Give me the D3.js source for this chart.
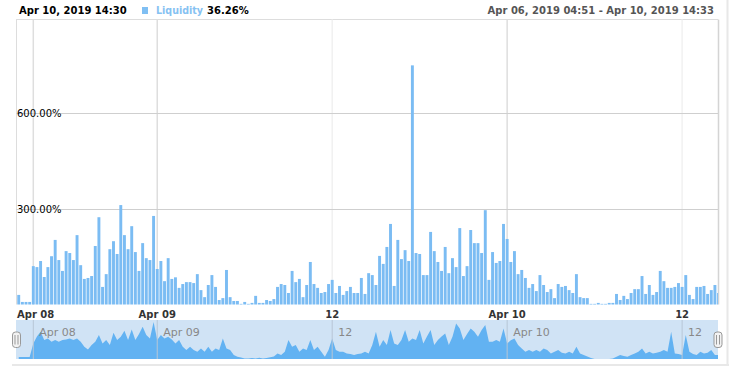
<!DOCTYPE html>
<html><head><meta charset="utf-8">
<script src="https://cdn.jsdelivr.net/npm/d3@7"></script>
<style>body{margin:0;background:#fff}svg{display:block;font-family:"DejaVu Sans",Verdana,sans-serif}</style>
</head><body><svg id="c" width="729" height="367"></svg>
<script>
const liquidity = [30,8,8,8,120,117,136,86,117,151,202,139,105,167,161,139,217,123,80,83,89,183,273,55,95,173,198,158,311,217,173,245,164,105,192,145,139,277,111,136,73,145,80,85,52,64,70,70,67,95,45,23,61,92,55,14,20,108,23,11,11,2,8,2,5,27,5,5,14,11,17,55,64,61,36,105,70,80,23,61,133,64,52,36,39,64,77,36,58,30,42,55,36,36,83,33,98,92,61,152,127,180,252,58,202,142,170,136,748,161,158,92,92,227,167,133,105,180,98,145,117,239,89,120,233,192,192,161,295,77,164,130,136,252,205,133,167,95,108,83,52,64,42,92,61,39,48,20,64,55,58,45,36,95,23,20,20,2,2,5,2,2,5,5,33,14,27,17,36,48,48,89,33,61,30,39,105,73,52,52,55,67,55,92,30,17,55,55,58,33,45,61,36];
const scrollValues = [16,16,16,16,125,180,218,152,165,139,152,139,152,157,165,152,165,139,99,77,112,139,192,125,152,112,211,152,179,227,152,237,152,200,259,192,165,296,152,192,165,179,157,125,152,99,72,99,72,59,85,59,99,59,85,72,165,85,72,32,19,13,5,5,8,5,10,5,8,15,20,45,32,59,152,99,112,59,85,72,152,72,99,59,19,72,165,72,59,59,45,40,32,40,45,59,45,112,219,99,152,112,232,125,112,152,232,139,165,152,232,125,180,232,112,152,180,205,112,179,285,245,152,200,245,219,179,232,272,139,139,152,139,245,125,150,165,112,85,59,72,59,72,59,85,72,45,59,72,50,45,59,45,99,45,32,20,8,0,0,0,0,0,5,19,32,25,19,32,45,59,85,45,59,45,50,59,72,59,219,45,40,32,192,59,40,32,59,45,50,72,32,32];
const tickIndex = [4, 38, 86, 134, 182];
const tickLabels = ["Apr 08", "Apr 09", "12", "Apr 10", "12"];
const tickMajor = [true, true, false, true, false];
const yTicks = [300, 600];
const headerDate = "Apr 10, 2019 14:30";
const seriesName = "Liquidity";
const seriesValue = "36.26%";
const rangeText = "Apr 06, 2019 04:51 - Apr 10, 2019 14:33";

const svg = d3.select("#c");
const L = 16, R = 718, T = 19.5, B = 304.5;
const x = d3.scaleBand().domain(d3.range(liquidity.length)).range([16.9, 16.9 + 3.645 * liquidity.length]).padding(0);
const y = d3.scaleLinear().domain([0, 893]).range([B, 19]);
const fmt = d3.format(".2f");

svg.append("defs").append("clipPath").attr("id", "pc").append("rect")
  .attr("x", L).attr("y", 0).attr("width", R - L).attr("height", 367);

// outer light border
svg.append("line").attr("x1", 727.5).attr("x2", 727.5).attr("y1", 0).attr("y2", 366).attr("stroke", "#e8e8e8").attr("stroke-width", 2);
svg.append("line").attr("x1", 12).attr("x2", 729).attr("y1", 365).attr("y2", 365).attr("stroke", "#e8e8e8").attr("stroke-width", 2);

// header
svg.append("text").attr("x", 19).attr("y", 14).attr("font-size", 10).attr("font-weight", "bold").attr("fill", "#000").text(headerDate);
svg.append("rect").attr("x", 142).attr("y", 7).attr("width", 6).attr("height", 7).attr("fill", "#80bff3");
const nameT = svg.append("text").attr("x", 156).attr("y", 14).attr("font-size", 10).attr("font-weight", "bold").attr("fill", "#86c2f2")
  .attr("textLength", 47).attr("lengthAdjust", "spacingAndGlyphs").text(seriesName);
svg.append("text").attr("x", 207).attr("y", 14).attr("font-size", 10).attr("font-weight", "bold").attr("fill", "#000").text(seriesValue);
svg.append("text").attr("x", 714).attr("y", 14).attr("text-anchor", "end").attr("font-size", 10).attr("font-weight", "bold").attr("fill", "#555").text(rangeText);

// plot frame
const g = svg.append("g");
g.append("line").attr("x1", L).attr("x2", R).attr("y1", T).attr("y2", T).attr("stroke", "#ddd");
g.append("line").attr("x1", L + 0.5).attr("x2", L + 0.5).attr("y1", T).attr("y2", B).attr("stroke", "#ddd");
g.append("line").attr("x1", R + 0.5).attr("x2", R + 0.5).attr("y1", T).attr("y2", B).attr("stroke", "#d4d4d4").attr("stroke-width", 1.5);

// vertical grid
const cx = i => x(i) + x.bandwidth() / 2;
tickIndex.forEach((ti, k) => {
  g.append("line").attr("x1", cx(ti)).attr("x2", cx(ti)).attr("y1", T).attr("y2", B)
    .attr("stroke", tickMajor[k] ? "#dedede" : "#f1f1f1").attr("stroke-width", 1.5);
});
// horizontal grid
yTicks.forEach(v => {
  g.append("line").attr("x1", L).attr("x2", R).attr("y1", Math.round(y(v)) + 0.5).attr("y2", Math.round(y(v)) + 0.5).attr("stroke", "#cfcfcf");
});

// bars
g.append("g").attr("clip-path", "url(#pc)").selectAll("rect").data(liquidity).join("rect")
  .attr("x", (d, i) => x(i) + x.bandwidth() * 0.1)
  .attr("width", x.bandwidth() * 0.8)
  .attr("y", d => y(d))
  .attr("height", d => B - y(d))
  .attr("fill", "#7bbcf3");

// y labels
yTicks.forEach(v => {
  g.append("text").attr("x", 17).attr("y", Math.round(y(v)) + 4).attr("font-size", 10).attr("fill", "#000").text(fmt(v) + "%");
});

// x axis labels
tickIndex.forEach((ti, k) => {
  const t = svg.append("text").attr("y", 318).attr("font-size", 10).attr("font-weight", "bold").attr("fill", "#333")
    .attr("text-anchor", "middle").attr("x", cx(ti)).text(tickLabels[k]);
  const w = t.node().getComputedTextLength();
  if (cx(ti) - w / 2 < L + 1) t.attr("text-anchor", "start").attr("x", L + 1);
});

// scrollbar
const SB = 320, SE = 359;
const ys = d3.scaleLinear().domain([0, 312]).range([SE, SB]);
svg.append("rect").attr("x", L).attr("y", SB).attr("width", R - L).attr("height", SE - SB).attr("fill", "#d0e3f5");
const area = d3.area().x((d, i) => cx(i)).y0(SE).y1(d => ys(d)).curve(d3.curveLinear);
svg.append("path").datum(scrollValues).attr("clip-path", "url(#pc)").attr("d", area).attr("fill", "#62b2f2");
tickIndex.forEach((ti, k) => {
  svg.append("line").attr("x1", cx(ti)).attr("x2", cx(ti)).attr("y1", SB).attr("y2", SE).attr("stroke", "#b7c6d6").attr("stroke-width", 1);
  svg.append("text").attr("x", cx(ti) + 6).attr("y", 336).attr("font-size", 11).attr("fill", "#888").text(tickLabels[k]);
});
// handles
[16.5, 718].forEach(hx => {
  const h = svg.append("g");
  h.append("rect").attr("x", hx - 4).attr("y", 332).attr("width", 8).attr("height", 15.5).attr("rx", 3)
    .attr("fill", "#f2f2f2").attr("stroke", "#999");
  [-1.5, 1.5].forEach(o => h.append("line").attr("x1", hx + o).attr("x2", hx + o).attr("y1", 335).attr("y2", 344.5).attr("stroke", "#999"));
});
</script></body></html>
